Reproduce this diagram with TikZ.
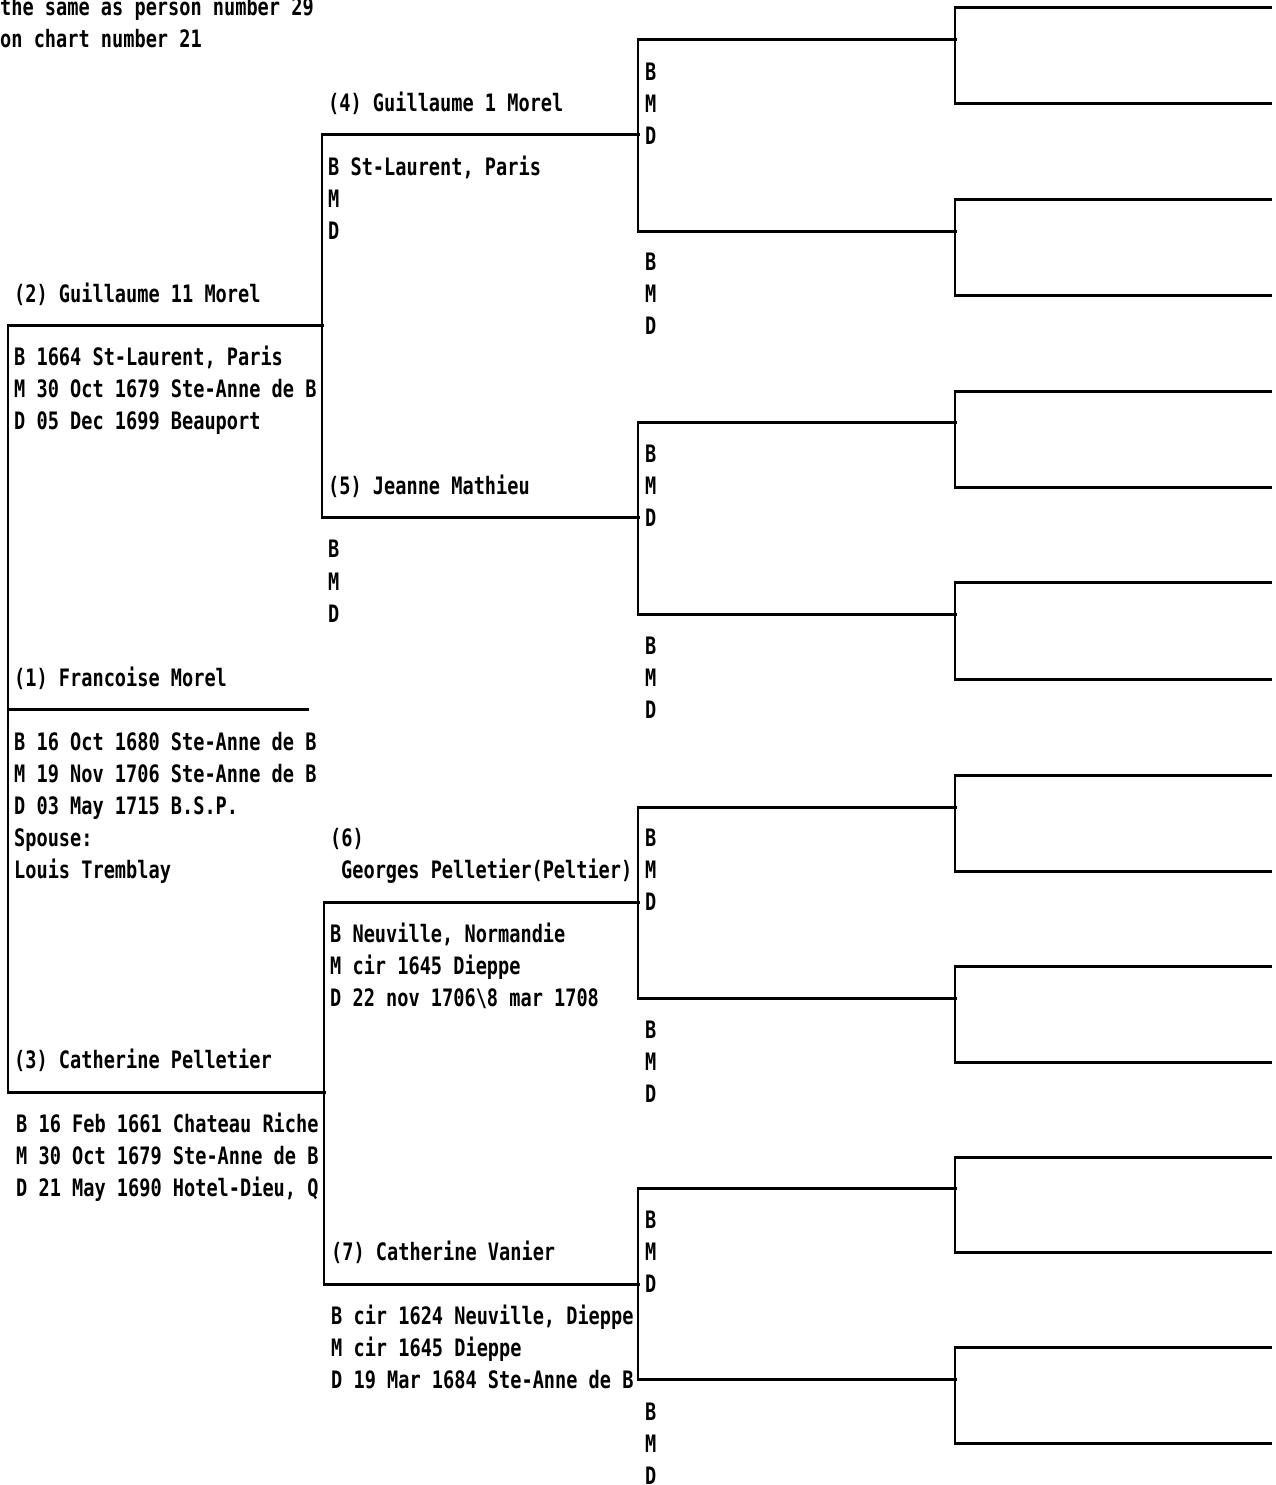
\documentclass[tikz,border=0pt]{standalone}
\usepackage{fontspec}
\newfontfamily\chartfont{DejaVu Sans Mono}[FakeStretch=0.775]
\begin{document}
\begin{tikzpicture}[x=1pt,y=-1pt,
  txt/.style={anchor=base west, inner sep=0pt, font=\chartfont\bfseries\fontsize{24pt}{32pt}\selectfont},
  hline/.style={line width=3pt, line cap=rect},
  vline/.style={line width=1.5pt}]
\useasboundingbox (0,0) rectangle (1276,1485);
\fill[white] (0,0) rectangle (1276,1485);

% ---------- coordinates ----------
% generation 1 / 2
\coordinate (g1a) at (8,709);   \coordinate (g1b) at (307,709);
\coordinate (p2a) at (8,325);   \coordinate (p2b) at (322,325);
\coordinate (p3a) at (8,1092);  \coordinate (p3b) at (324,1092);
% generation 3
\coordinate (p4a) at (322,135); \coordinate (p4b) at (638,135);
\coordinate (p5a) at (322,517); \coordinate (p5b) at (638,517);
\coordinate (p6a) at (324,902); \coordinate (p6b) at (638,902);
\coordinate (p7a) at (324,1284);\coordinate (p7b) at (638,1284);

% ---------- lines ----------
\draw[vline] (p2a) -- (p3a);
\draw[hline] (g1a) -- (g1b);
\draw[hline] (p2a) -- (p2b);
\draw[hline] (p3a) -- (p3b);
\draw[vline] (p4a) -- (p5a);
\draw[vline] (p6a) -- (p7a);
\draw[hline] (p4a) -- (p4b);
\draw[hline] (p5a) -- (p5b);
\draw[hline] (p6a) -- (p6b);
\draw[hline] (p7a) -- (p7b);

% generation 4 and 5
\foreach \i/\ya/\yb in {8/40/231, 10/422/614, 12/807/998, 14/1188/1379}{
  \coordinate (f\i) at (638,\ya);
  \coordinate (m\i) at (638,\yb);
  \coordinate (fe\i) at (955,\ya);
  \coordinate (me\i) at (955,\yb);
  \draw[vline] (f\i) -- (m\i);
  \draw[hline] (f\i) -- (fe\i);
  \draw[hline] (m\i) -- (me\i);
}
\foreach \i/\ya/\yb in {1/8/104, 2/199/295, 3/391/487, 4/582/679, 5/775/871, 6/966/1062, 7/1157/1252, 8/1347/1443}{
  \coordinate (qa\i) at (955,\ya);
  \coordinate (qb\i) at (955,\yb);
  \coordinate (ra\i) at (1270,\ya);
  \coordinate (rb\i) at (1270,\yb);
  \draw[vline] (qa\i) -- (qb\i);
  \draw[hline] (qa\i) -- (ra\i);
  \draw[hline] (qb\i) -- (rb\i);
}

% ---------- texts ----------
\node[txt] (note1) at (0,16) {the same as person number 29};
\node[txt] (note2) at (0,47.5) {on chart number 21};

% (1)
\node[txt] (n1) at (14,686.5) {(1) Francoise Morel};
\node[txt] (n1b) at (14,750.5) {B 16 Oct 1680 Ste-Anne de B};
\node[txt] (n1m) at (14,782.5) {M 19 Nov 1706 Ste-Anne de B};
\node[txt] (n1d) at (14,814.5) {D 03 May 1715 B.S.P.};
\node[txt] (n1s) at (14,846.5) {Spouse:};
\node[txt] (n1t) at (14,878.5) {Louis Tremblay};

% (2)
\node[txt] (n2) at (14,302.5) {(2) Guillaume 11 Morel};
\node[txt] (n2b) at (14,365.5) {B 1664 St-Laurent, Paris};
\node[txt] (n2m) at (14,397.5) {M 30 Oct 1679 Ste-Anne de B};
\node[txt] (n2d) at (14,429.5) {D 05 Dec 1699 Beauport};

% (3)
\node[txt] (n3) at (14,1068.5) {(3) Catherine Pelletier};
\node[txt] (n3b) at (16,1132.5) {B 16 Feb 1661 Chateau Riche};
\node[txt] (n3m) at (16,1164.5) {M 30 Oct 1679 Ste-Anne de B};
\node[txt] (n3d) at (16,1196.5) {D 21 May 1690 Hotel-Dieu, Q};

% (4)
\node[txt] (n4) at (328,111.5) {(4) Guillaume 1 Morel};
\node[txt] (n4b) at (328,175.5) {B St-Laurent, Paris};
\node[txt] (n4m) at (328,207.5) {M};
\node[txt] (n4d) at (328,239.5) {D};

% (5)
\node[txt] (n5) at (328,494.5) {(5) Jeanne Mathieu};
\node[txt] (n5b) at (328,557.5) {B};
\node[txt] (n5m) at (328,590.5) {M};
\node[txt] (n5d) at (328,622.5) {D};

% (6)
\node[txt] (n6) at (330,846.5) {(6)};
\node[txt] (n6n) at (341,878.5) {Georges Pelletier(Peltier)};
\node[txt] (n6b) at (330,942.5) {B Neuville, Normandie};
\node[txt] (n6m) at (330,974.5) {M cir 1645 Dieppe};
\node[txt] (n6d) at (330,1006.5) {D 22 nov 1706\textbackslash 8 mar 1708};

% (7)
\node[txt] (n7) at (331,1260.5) {(7) Catherine Vanier};
\node[txt] (n7b) at (331,1324.5) {B cir 1624 Neuville, Dieppe};
\node[txt] (n7m) at (331,1356.5) {M cir 1645 Dieppe};
\node[txt] (n7d) at (331,1388.5) {D 19 Mar 1684 Ste-Anne de B};

% generation 4 B/M/D
\foreach \i/\y in {8/72, 9/262, 10/454, 11/646, 12/838, 13/1030, 14/1220, 15/1412}{
  \node[txt] (b\i) at (645,\y+8.5) {B};
  \node[txt] (mm\i) at (645,\y+40.5) {M};
  \node[txt] (d\i) at (645,\y+72.5) {D};
}
\end{tikzpicture}
\end{document}
